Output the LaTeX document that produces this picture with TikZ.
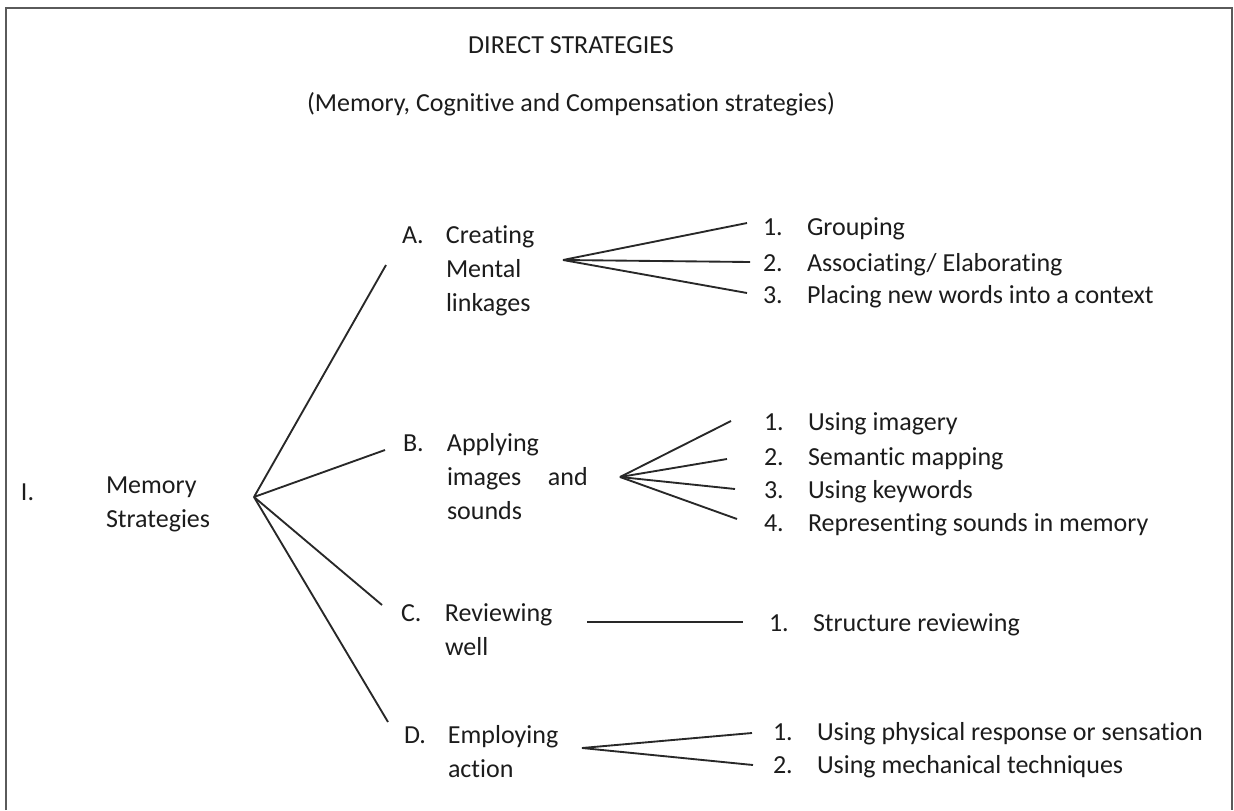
\documentclass[tikz,border=0pt]{standalone}
\usepackage{fontspec}
\setmainfont[Ligatures=NoCommon]{Carlito}
\usetikzlibrary{calc}

\tikzset{every picture/.style={line width=1.5pt}}
\tikzset{
  txt/.style={anchor=base west, inner sep=0pt, font=\fontsize{19.5}{25.5}\selectfont, text={rgb, 255:red, 28; green, 28; blue, 28 }},
  head/.style={txt, anchor=base},
  conn/.style={draw={rgb, 255:red, 40; green, 40; blue, 40 }, line width=1.4pt},
  frame/.style={draw={rgb, 255:red, 90; green, 90; blue, 90 }, line width=1.6pt}
}
\newcommand{\itemno}[1]{\makebox[33pt][l]{#1}}
\newcommand{\branchlines}[1]{\begin{tabular}[t]{@{}p{33pt}@{}l@{}}#1\end{tabular}}
\newcommand{\stacklines}[1]{\begin{tabular}[t]{@{}l@{}}#1\end{tabular}}

\begin{document}
\begin{tikzpicture}[x=0.75pt,y=0.75pt,yscale=-1,xscale=1]
\useasboundingbox (0,0) rectangle (1234,810);

%Frame
\draw [frame] (6,810) -- (6,8) -- (1232,8) -- (1232,810) ;

% Text Node
\node (title) at (571,53) [head] {DIRECT STRATEGIES};
% Text Node
\node (subtitle) at (571,111) [head] {(Memory, Cognitive and Compensation strategies)};

% Text Node
\node (numI) at (20,500) [txt] {I.};
% Text Node
\node (memory) at (105,493) [txt] {\stacklines{Memory\\Strategies}};

% Text Node
\node (A) at (401,243) [txt] {\branchlines{A.&Creating\\&Mental\\&linkages}};
% Text Node
\node (B) at (402,451) [txt] {\branchlines{B.&Applying\\&images\hspace{20pt}and\\&sounds}};
% Text Node
\node (C) at (400,621) [txt] {\branchlines{C.&Reviewing\\&well}};
% Text Node
\node (D) at (403,743) [txt] {\branchlines{D.&Employing\\&action}};

% Text Node
\node (a1) at (762,235) [txt] {\itemno{1.}Grouping};
\node (a2) at (762,271) [txt] {\itemno{2.}Associating/ Elaborating};
\node (a3) at (762,303) [txt] {\itemno{3.}Placing new words into a context};
% Text Node
\node (b1) at (763,430) [txt] {\itemno{1.}Using imagery};
\node (b2) at (763,465) [txt] {\itemno{2.}Semantic mapping};
\node (b3) at (763,498) [txt] {\itemno{3.}Using keywords};
\node (b4) at (763,531) [txt] {\itemno{4.}Representing sounds in memory};
% Text Node
\node (c1) at (768,631) [txt] {\itemno{1.}Structure reviewing};
% Text Node
\node (d1) at (772,740) [txt] {\itemno{1.}Using physical response or sensation};
\node (d2) at (772,773) [txt] {\itemno{2.}Using mechanical techniques};

%Branch points
\coordinate (hub) at (254,497);
\coordinate (hubA) at (563,260);
\coordinate (hubB) at (620,477);
\coordinate (hubC) at (587,622);
\coordinate (hubD) at (582,748);

%Straight Lines
\draw [conn] (hub) -- ($(A.base west)+(-15,22)$) ;
\draw [conn] (hub) -- ($(B.base west)+(-17,-1)$) ;
\draw [conn] (hub) -- ($(C.base west)+(-18,-16)$) ;
\draw [conn] (hub) -- ($(D.base west)+(-15,-21)$) ;

%Straight Lines
\draw [conn] (hubA) -- ($(a1.base west)+(-15,-12)$) ;
\draw [conn] (hubA) -- ($(a2.base west)+(-12,-9)$) ;
\draw [conn] (hubA) -- ($(a3.base west)+(-15,-10)$) ;

%Straight Lines
\draw [conn] (hubB) -- ($(b1.base west)+(-32,-9)$) ;
\draw [conn] (hubB) -- ($(b2.base west)+(-36,-6)$) ;
\draw [conn] (hubB) -- ($(b3.base west)+(-28,-9)$) ;
\draw [conn] (hubB) -- ($(b4.base west)+(-26,-12)$) ;

%Straight Lines
\draw [conn] (hubC) -- ($(c1.base west)+(-25,-9)$) ;

%Straight Lines
\draw [conn] (hubD) -- ($(d1.base west)+(-20,-7)$) ;
\draw [conn] (hubD) -- ($(d2.base west)+(-19,-8)$) ;

\end{tikzpicture}
\end{document}
